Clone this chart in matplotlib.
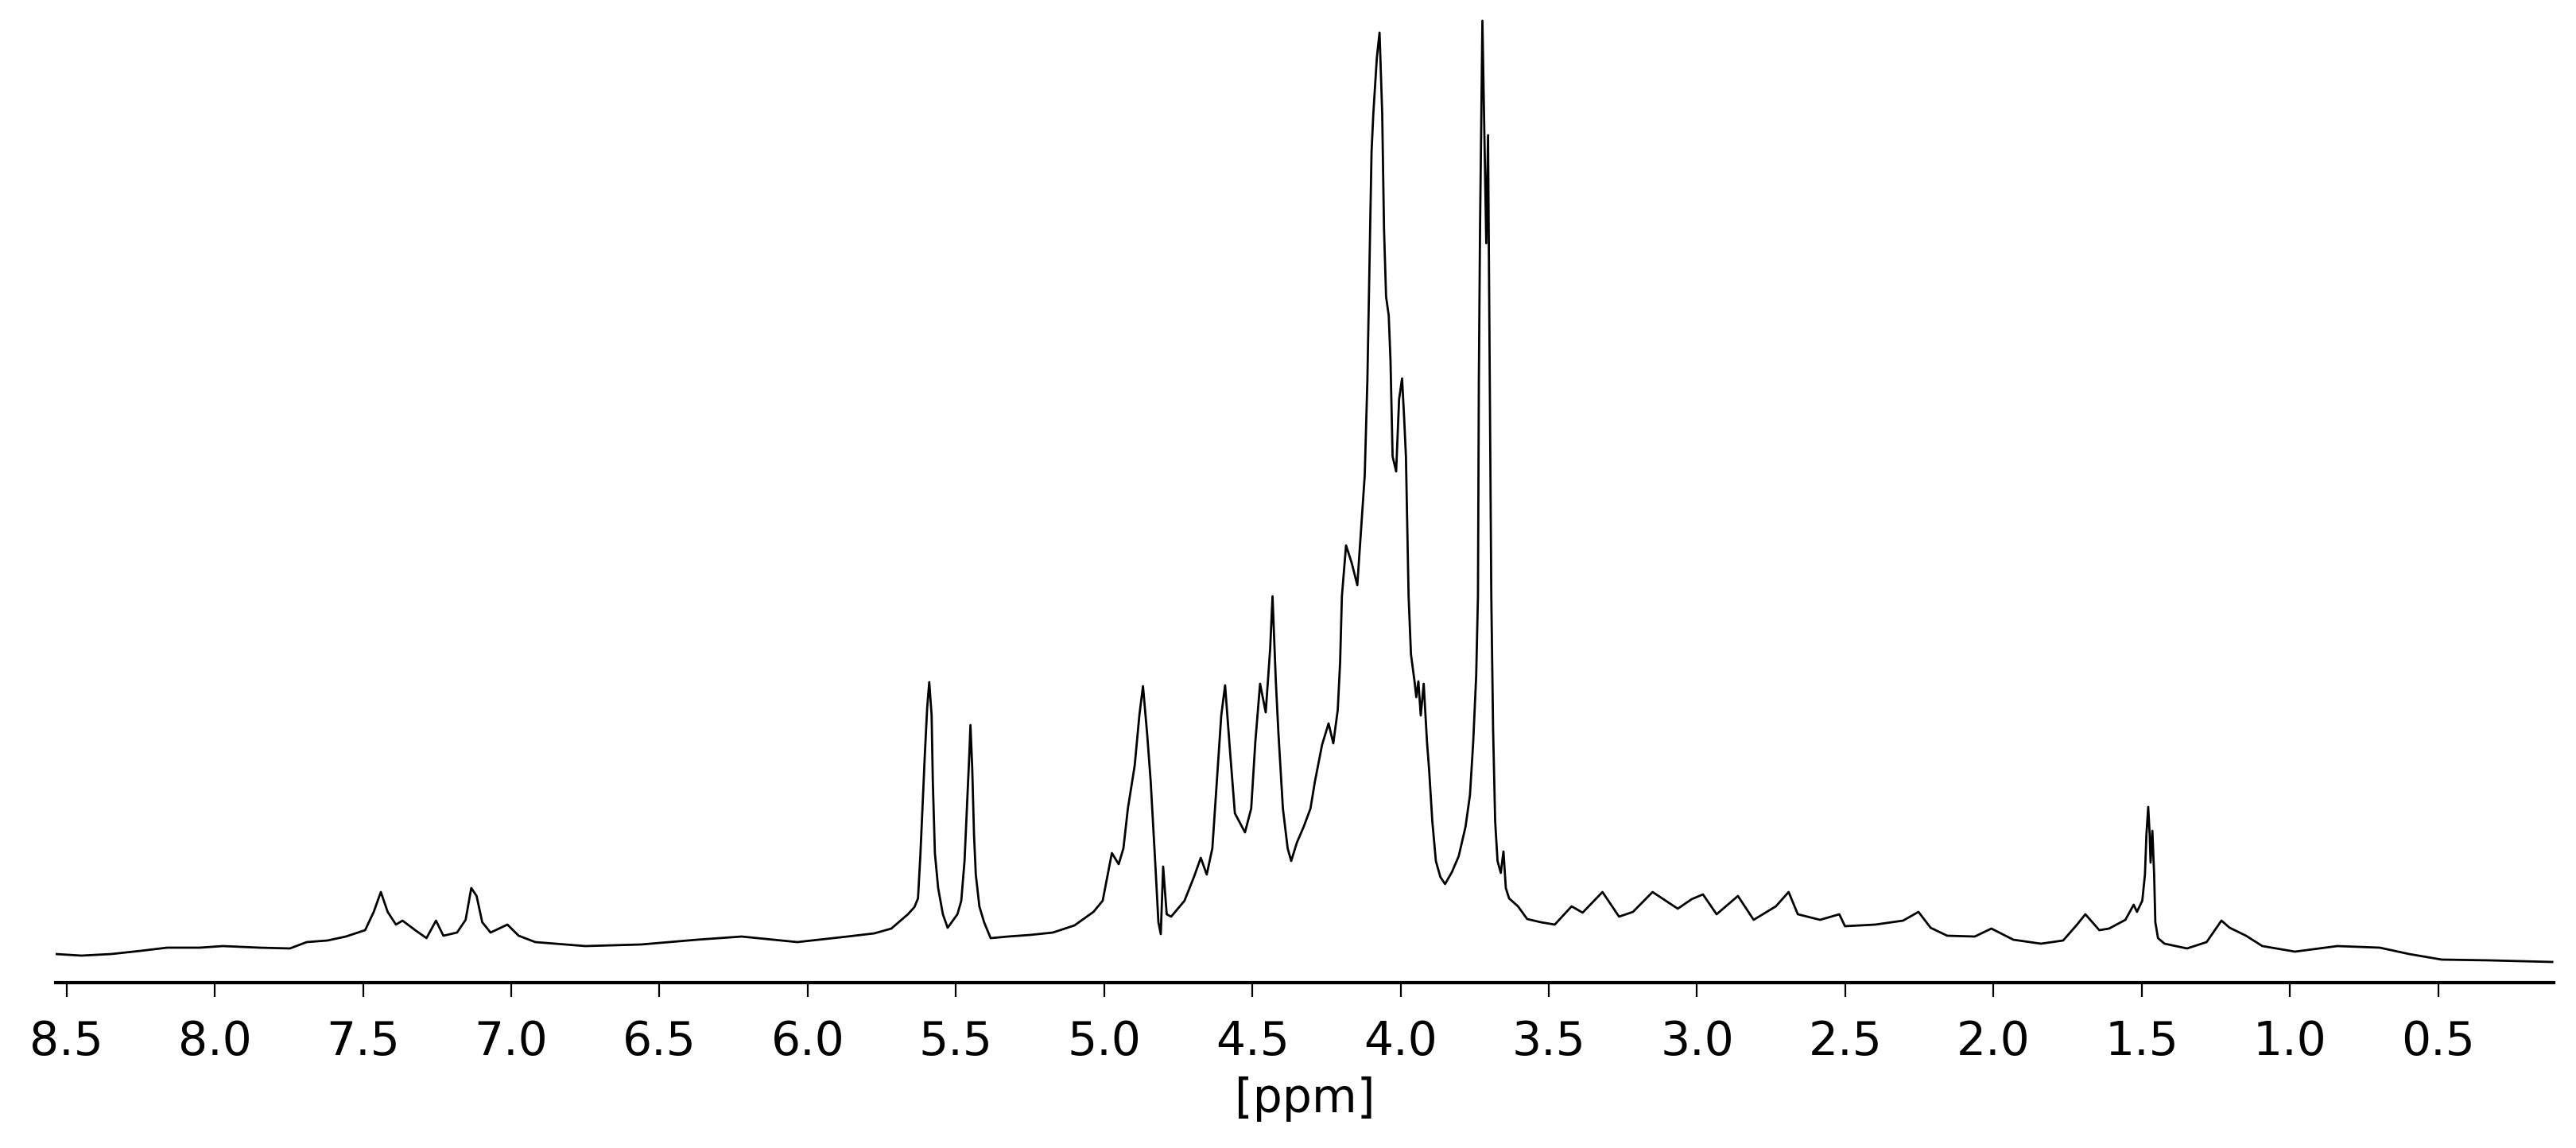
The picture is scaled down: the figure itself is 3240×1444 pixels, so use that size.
import matplotlib
matplotlib.use("Agg")
import matplotlib.pyplot as plt

# 1H NMR trace: chemical shift (ppm) and intensity (a.u.)
ppm = [8.537, 8.45, 8.349, 8.25, 8.161, 8.05, 7.973, 7.85, 7.747, 7.690, 7.62, 7.558,
       7.493, 7.464, 7.440, 7.417, 7.389, 7.367, 7.324, 7.286, 7.254, 7.229, 7.183,
       7.154, 7.135, 7.117, 7.098, 7.070, 7.013, 6.975, 6.919, 6.75, 6.562, 6.373,
       6.223, 6.035, 5.866, 5.775, 5.718, 5.662, 5.640, 5.628, 5.620, 5.613, 5.605,
       5.597, 5.590, 5.582, 5.578, 5.571, 5.560, 5.544, 5.528, 5.495, 5.482, 5.471,
       5.463, 5.455, 5.451, 5.445, 5.439, 5.433, 5.421, 5.405, 5.383, 5.324, 5.25,
       5.173, 5.10, 5.036, 5.005, 4.974, 4.951, 4.935, 4.920, 4.897, 4.881, 4.869,
       4.855, 4.843, 4.828, 4.817, 4.809, 4.801, 4.789, 4.774, 4.729, 4.697, 4.674,
       4.654, 4.635, 4.620, 4.605, 4.592, 4.577, 4.559, 4.525, 4.504, 4.490, 4.474,
       4.455, 4.440, 4.432, 4.421, 4.412, 4.397, 4.381, 4.369, 4.350, 4.327, 4.304,
       4.289, 4.265, 4.243, 4.227, 4.212, 4.204, 4.198, 4.184, 4.165, 4.146, 4.121,
       4.112, 4.105, 4.098, 4.092, 4.080, 4.071, 4.062, 4.056, 4.049, 4.040, 4.034,
       4.027, 4.015, 4.005, 3.995, 3.988, 3.982, 3.973, 3.965, 3.953, 3.947, 3.940,
       3.932, 3.922, 3.911, 3.904, 3.893, 3.881, 3.866, 3.850, 3.827, 3.804, 3.781,
       3.766, 3.755, 3.745, 3.739, 3.736, 3.732, 3.724, 3.711, 3.705, 3.694, 3.688,
       3.681, 3.673, 3.662, 3.653, 3.645, 3.634, 3.604, 3.573, 3.527, 3.480, 3.423,
       3.386, 3.319, 3.263, 3.216, 3.150, 3.065, 3.018, 2.980, 2.934, 2.862, 2.809,
       2.734, 2.691, 2.660, 2.585, 2.520, 2.501, 2.399, 2.305, 2.253, 2.212, 2.156,
       2.063, 2.007, 1.933, 1.840, 1.765, 1.718, 1.690, 1.643, 1.610, 1.555, 1.527,
       1.516, 1.498, 1.489, 1.484, 1.478, 1.473, 1.470, 1.464, 1.458, 1.454, 1.445,
       1.423, 1.347, 1.281, 1.231, 1.203, 1.148, 1.093, 0.983, 0.840, 0.697, 0.598,
       0.488, 0.324, 0.115]

intensity = [36, 34, 36, 40, 44, 44, 46, 44, 43, 51, 53, 58,
             66, 89, 114, 89, 73, 78, 66, 56, 78, 59, 63,
             79, 119, 109, 76, 63, 73, 59, 51, 46, 48, 54,
             58, 51, 58, 62, 68, 86, 95, 106, 160, 219, 286,
             346, 378, 336, 253, 163, 119, 86, 69, 86, 103, 153,
             219, 286, 324, 269, 186, 136, 96, 76, 56, 58, 60,
             63, 72, 89, 103, 163, 149, 169, 219, 273, 337, 373,
             313, 253, 153, 76, 61, 146, 86, 83, 103, 133, 157,
             136, 169, 253, 336, 374, 299, 213, 189, 219, 303, 376,
             340, 420, 486, 380, 313, 219, 169, 153, 176, 196, 219,
             253, 299, 326, 301, 343, 403, 486, 550, 528, 500, 638,
             758, 901, 1045, 1093, 1164, 1195, 1093, 949, 863, 839, 782,
             662, 643, 734, 760, 710, 662, 486, 413, 379, 359, 379,
             336, 376, 303, 269, 203, 153, 133, 124, 139, 159, 196,
             236, 303, 386, 486, 758, 949, 1210, 930, 1066, 486, 319,
             203, 153, 138, 165, 119, 106, 96, 80, 76, 73, 96,
             88, 114, 83, 89, 114, 93, 105, 111, 86, 109, 79,
             96, 114, 86, 79, 86, 71, 73, 78, 89, 69, 59,
             58, 68, 54, 49, 53, 73, 86, 66, 68, 79, 98,
             89, 103, 136, 186, 221, 186, 151, 191, 136, 76, 56,
             49, 43, 51, 78, 69, 59, 46, 39, 46, 44, 36,
             29, 28, 26]

xticks = [8.5, 8.0, 7.5, 7.0, 6.5, 6.0, 5.5, 5.0, 4.5, 4.0, 3.5, 3.0, 2.5, 2.0, 1.5, 1.0, 0.5]

fig = plt.figure(figsize=(32.4, 14.44), dpi=100)
ax = fig.add_axes([70 / 3240, 1 - 1236 / 1444, (3212 - 70) / 3240, 1236 / 1444])

ax.plot(ppm, intensity, color="black", lw=2.0)

ax.set_xlim(8.537, 0.11)
ax.set_ylim(0, 1236)
ax.set_xticks(xticks)
ax.set_xticklabels([f"{t:.1f}" for t in xticks])
ax.set_yticks([])
for s in ["top", "left", "right"]:
    ax.spines[s].set_visible(False)
ax.spines["bottom"].set_linewidth(3)
ax.tick_params(axis="x", labelsize=42, length=13, width=1.6, pad=20)
ax.set_xlabel("[ppm]", fontsize=42, labelpad=11)

fig.savefig("out.png", dpi=100)
